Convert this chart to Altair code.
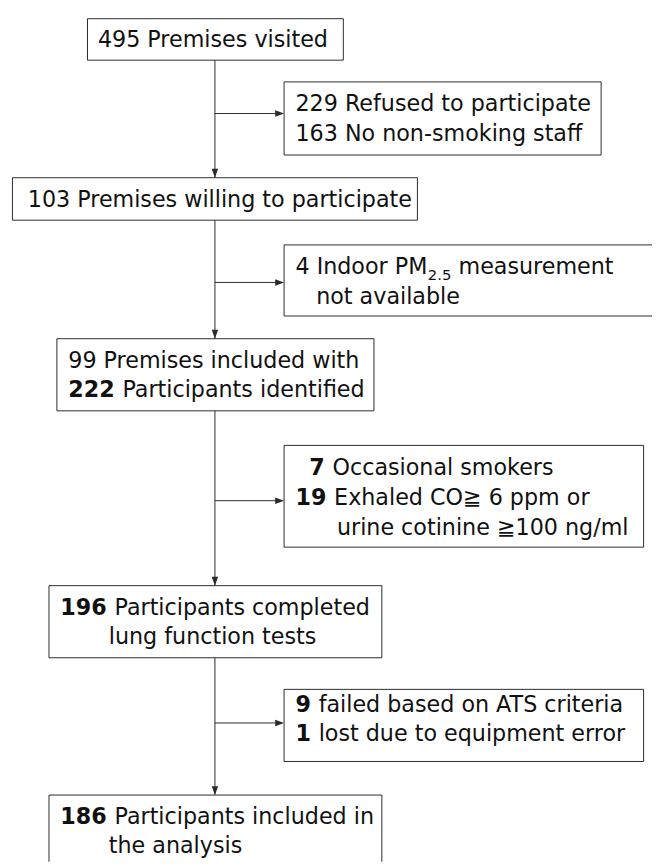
import altair as alt
import pandas as pd

# ---------------- values (text of the flow chart) ----------------
bold_part = ["", "", "", "", "", "", "", "222", "7", "19", "", "196", "", "9", "1", "186", ""]
rest_part = [
    "495 Premises visited",
    "229 Refused to participate",
    "163 No non-smoking staff",
    "103 Premises willing to participate",
    "4 Indoor PM",
    "not available",
    "99 Premises included with",
    "Participants identified",
    "Occasional smokers",
    "Exhaled CO\u2267 6 ppm or",
    "urine cotinine \u2267100 ng/ml",
    "Participants completed",
    "lung function tests",
    "failed based on ATS criteria",
    "lost due to equipment error",
    "Participants included in",
    "the analysis",
]
sub_text = "2.5"
sub_tail = "measurement"
SUB_LINE = 4

# ---------------- layout (reference pixel coordinates) ----------------
FONT = "DejaVu Sans"
FS = 22.5
SUB_FS = 15
INK = "#111111"
LINE = "#2a2a2a"

line_x = [99, 299, 299, 28, 299, 320, 69, 69, 313, 299, 341, 61, 110, 299, 299, 61, 110]
line_y = [42, 107, 137, 204, 272, 302, 367, 397, 475, 506, 536, 617, 647, 715, 745, 829, 858]

box_x = [88, 287, 12, 287, 57, 287, 49, 287, 49]
box_x2 = [347, 608, 422, 680, 378, 651, 386, 651, 386]
box_y = [13, 77, 174, 242, 337, 445, 587, 692, 799]
box_y2 = [55, 151, 217, 314, 410, 548, 660, 765, 890]

spine_x = 217
spine_y = [55, 799]
side_arrow_y = [109, 280, 501, 726]
side_tip_x = 287
down_tip_y = [174, 337, 587, 799]

# DejaVu Sans advance widths (em) for width bookkeeping of mixed runs
DV = {" ": 0.318, ".": 0.318, "I": 0.295, "n": 0.634, "d": 0.635, "o": 0.612,
      "r": 0.411, "P": 0.603, "M": 0.863}
for c in "0123456789":
    DV[c] = 0.636
BOLD_DIGIT, BOLD_SPACE = 0.696, 0.348


def reg_width(s, fs):
    return sum(DV.get(c, 0.6) for c in s) * fs


H = 0.5  # half-pixel offset for crisp 1px lines

# ---------------- data frames ----------------
boxes = pd.DataFrame({
    "x": [v + H for v in box_x], "x2": [v + H for v in box_x2],
    "y": [v + H for v in box_y], "y2": [v + H for v in box_y2],
})
spine = pd.DataFrame({"x": [spine_x + H], "y": [spine_y[0]], "y2": [spine_y[1]]})
side = pd.DataFrame({"x": [spine_x + H] * len(side_arrow_y),
                     "x2": [side_tip_x - 6] * len(side_arrow_y),
                     "y": [v + H for v in side_arrow_y]})
right_heads = pd.DataFrame({"x": [side_tip_x + H] * len(side_arrow_y),
                            "y": [v + H for v in side_arrow_y]})
down_heads = pd.DataFrame({"x": [spine_x + H] * len(down_tip_y),
                           "y": [v + H for v in down_tip_y]})

bold_rows, reg_rows = [], []
for b, r, x, y in zip(bold_part, rest_part, line_x, line_y):
    if b:
        bold_rows.append({"x": x, "y": y, "t": b})
        x = x + (len(b) * BOLD_DIGIT + BOLD_SPACE) * FS
    reg_rows.append({"x": x, "y": y, "t": r})
bold_df = pd.DataFrame(bold_rows)
reg_df = pd.DataFrame(reg_rows)

sx = line_x[SUB_LINE] + reg_width(rest_part[SUB_LINE], FS) + 0.5
sub_df = pd.DataFrame({"x": [sx], "y": [line_y[SUB_LINE] + 6], "t": [sub_text]})
tail_x = sx + reg_width(sub_text, SUB_FS) + DV[" "] * FS
reg_df = pd.concat([reg_df, pd.DataFrame({"x": [tail_x], "y": [line_y[SUB_LINE]], "t": [sub_tail]})],
                   ignore_index=True)

# ---------------- chart ----------------
xs = alt.Scale(domain=[8, 660], nice=False, zero=False)
ys = alt.Scale(domain=[8, 867], nice=False, zero=False, reverse=True)
X = alt.X("x:Q", scale=xs, axis=None)
Y = alt.Y("y:Q", scale=ys, axis=None)

spine_layer = alt.Chart(spine).mark_rule(color=LINE, strokeWidth=1).encode(x=X, y=Y, y2="y2:Q")
side_layer = alt.Chart(side).mark_rule(color=LINE, strokeWidth=1).encode(x=X, x2="x2:Q", y=Y)
box_layer = alt.Chart(boxes).mark_rect(fill="white", stroke=LINE, strokeWidth=1, clip=True).encode(
    x=X, x2="x2:Q", y=Y, y2="y2:Q")
right_layer = alt.Chart(right_heads).mark_point(
    shape="M0,0L-1,-0.36L-1,0.36Z", size=324, filled=True, color=LINE, opacity=1, strokeWidth=0
).encode(x=X, y=Y)
down_layer = alt.Chart(down_heads).mark_point(
    shape="M0,0L-0.36,-1L0.36,-1Z", size=324, filled=True, color=LINE, opacity=1, strokeWidth=0
).encode(x=X, y=Y)

text_common = dict(align="left", baseline="alphabetic", font=FONT, color=INK)
reg_layer = alt.Chart(reg_df).mark_text(fontSize=FS, fontWeight="normal", **text_common).encode(
    x=X, y=Y, text="t:N")
bold_layer = alt.Chart(bold_df).mark_text(fontSize=FS, fontWeight="bold", **text_common).encode(
    x=X, y=Y, text="t:N")
sub_layer = alt.Chart(sub_df).mark_text(fontSize=SUB_FS, fontWeight="normal", **text_common).encode(
    x=X, y=Y, text="t:N")

chart = alt.layer(
    spine_layer, side_layer, box_layer, right_layer, down_layer,
    reg_layer, bold_layer, sub_layer,
).properties(
    width=652, height=859, padding=0,
    autosize=alt.AutoSizeParams(type="none"),
    background="white",
).configure_view(stroke=None)

chart.save("out.html", embed_options={"renderer": "svg", "actions": False})
